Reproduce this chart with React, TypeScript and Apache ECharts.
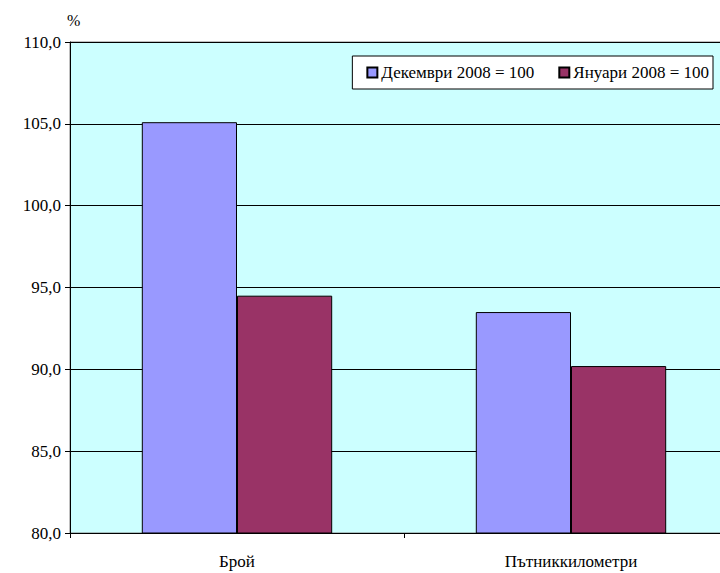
import React, { useEffect, useRef } from "react";
import * as echarts from "echarts";

const categories = ["Брой", "Пътниккилометри"];
const seriesNames = ["Декември 2008 = 100", "Януари 2008 = 100"];
const decValues = [105.1, 93.5];
const janValues = [94.5, 90.2];
const colors = ["#9999FF", "#993366"];

export default function App() {
  const ref = useRef<HTMLDivElement>(null);
  useEffect(() => {
    const chart = echarts.init(ref.current!, null, { renderer: "svg" });
    const font = "Liberation Serif";
    chart.setOption({
      animation: false,
      backgroundColor: "#ffffff",
      textStyle: { fontFamily: font },
      grid: {
        left: 70,
        top: 42,
        height: 491,
        width: 668,
        outerBoundsMode: "none",
        containLabel: false,
        show: true,
        backgroundColor: "#CCFFFF",
        borderColor: "#808080",
        borderWidth: 1,
      },
      graphic: [
        {
          type: "text",
          left: 67,
          top: 12,
          style: { text: "%", fontFamily: font, fontSize: 16, fill: "#000" },
        },
      ],
      legend: {
        right: 7,
        top: 56,
        orient: "horizontal",
        backgroundColor: "#ffffff",
        borderColor: "#000000",
        borderWidth: 1,
        borderRadius: 0,
        padding: [8, 4, 8, 14],
        itemGap: 24,
        itemWidth: 10,
        itemHeight: 10,
        icon: "rect",
        textStyle: { fontFamily: font, fontSize: 17, color: "#000", padding: [0, 0, 0, -1] },
        data: seriesNames,
      },
      xAxis: {
        type: "category",
        data: categories,
        axisLine: { lineStyle: { color: "#000", width: 1 } },
        axisTick: { show: true, alignWithLabel: false, length: 5, lineStyle: { color: "#000" } },
        axisLabel: { fontFamily: font, fontSize: 17, color: "#000", margin: 20 },
      },
      yAxis: {
        type: "value",
        min: 80,
        max: 110,
        interval: 5,
        axisLine: { show: true, lineStyle: { color: "#000", width: 1 } },
        axisTick: { show: true, length: 5, lineStyle: { color: "#000" } },
        splitLine: { show: true, lineStyle: { color: "#000", width: 1 } },
        axisLabel: {
          fontFamily: font,
          fontSize: 17,
          color: "#000",
          margin: 9,
          formatter: (v: number) => v.toFixed(1).replace(".", ","),
        },
      },
      series: [
        {
          name: seriesNames[0],
          type: "bar",
          data: decValues,
          barGap: "0%",
          barCategoryGap: "43%",
          itemStyle: { color: colors[0], borderColor: "#000", borderWidth: 1 },
        },
        {
          name: seriesNames[1],
          type: "bar",
          data: janValues,
          barGap: "0%",
          barCategoryGap: "43%",
          itemStyle: { color: colors[1], borderColor: "#000", borderWidth: 1 },
        },
      ],
    });
    return () => chart.dispose();
  }, []);
  return (
    <div
      ref={ref}
      style={{ position: "fixed", left: 0, top: 0, width: 720, height: 573 }}
    />
  );
}
